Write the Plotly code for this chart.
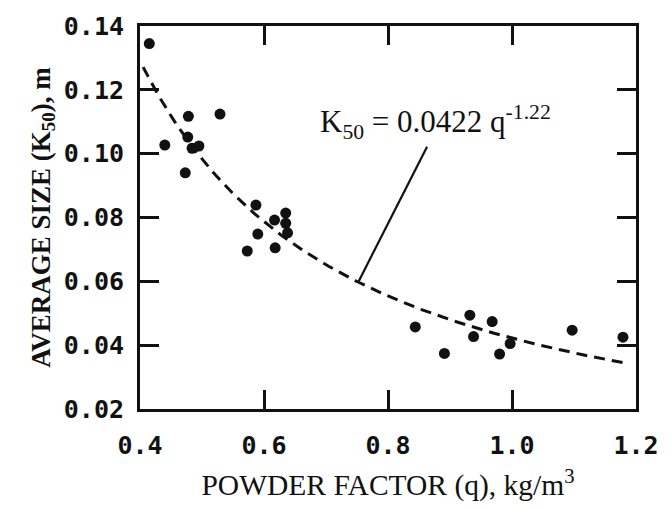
import numpy as np
import plotly.graph_objects as go

# Measured data (powder factor q in kg/m3, average size K50 in m)
q_vals = [0.415, 0.440, 0.473, 0.477, 0.478, 0.484, 0.495, 0.529,
          0.573, 0.587, 0.590, 0.617, 0.618, 0.635, 0.635, 0.638,
          0.844, 0.891, 0.932, 0.938, 0.968, 0.980, 0.997, 1.097, 1.179]
k50_vals = [0.1345, 0.1027, 0.0940, 0.1052, 0.1117, 0.1017, 0.1024, 0.1124,
            0.0695, 0.0839, 0.0748, 0.0792, 0.0705, 0.0814, 0.0782, 0.0752,
            0.0457, 0.0374, 0.0494, 0.0427, 0.0474, 0.0372, 0.0405, 0.0447, 0.0425]

# Fitted relation shown on the chart: K50 = a * q^b
fit_a = 0.0422
fit_b = -1.22
fit_range = [0.405, 1.18]

x_ticks = [0.4, 0.6, 0.8, 1.0, 1.2]
x_tick_labels = ["0.4", "0.6", "0.8", "1.0", "1.2"]
y_ticks = [0.02, 0.04, 0.06, 0.08, 0.10, 0.12, 0.14]
y_tick_labels = ["0.02", "0.04", "0.06", "0.08", "0.10", "0.12", "0.14"]

# leader line from label to curve (data coords)
leader_start = [0.863, 0.1022]
leader_end_q = 0.752
label_pos = [0.877, 0.1100]

q_fit = np.linspace(fit_range[0], fit_range[1], 200)
k_fit = fit_a * q_fit ** fit_b
leader_end = [leader_end_q, fit_a * leader_end_q ** fit_b]

ink = "#111111"
serif = "Liberation Serif"
fig = go.Figure()
fig.add_trace(go.Scatter(x=q_fit, y=k_fit, mode="lines",
                         line=dict(color=ink, width=3, dash="11px,7px"),
                         hoverinfo="skip", showlegend=False))
fig.add_trace(go.Scatter(x=q_vals, y=k50_vals, mode="markers",
                         marker=dict(color=ink, size=11),
                         showlegend=False))

fig.add_shape(type="line", xref="x", yref="y",
              x0=leader_start[0], y0=leader_start[1],
              x1=leader_end[0], y1=leader_end[1],
              line=dict(color=ink, width=2.2))
fig.add_annotation(x=label_pos[0], y=label_pos[1], xref="x", yref="y",
                   text="K<sub>50</sub> = 0.0422 q<sup>-1.22</sup>",
                   showarrow=False,
                   font=dict(family=serif, size=31, color=ink))

tickfont = dict(family="DejaVu Sans Mono", size=25, color=ink, weight="bold")
fig.update_xaxes(range=[0.4, 1.2], tickvals=x_ticks, ticktext=x_tick_labels,
                 ticks="inside", ticklen=19, tickwidth=2.5, tickcolor=ink,
                 showline=True, linewidth=3, linecolor=ink, mirror="ticks",
                 showgrid=False, zeroline=False, tickfont=tickfont,
                 ticklabelstandoff=12,
                 title=dict(text="POWDER FACTOR (q), kg/m<sup>3</sup>",
                            font=dict(family=serif, size=29.5, color=ink),
                            standoff=16))
fig.update_yaxes(range=[0.02, 0.14], tickvals=y_ticks, ticktext=y_tick_labels,
                 ticks="inside", ticklen=19, tickwidth=2.5, tickcolor=ink,
                 showline=True, linewidth=3, linecolor=ink, mirror="ticks",
                 showgrid=False, zeroline=False, tickfont=tickfont,
                 ticklabelstandoff=8,
                 title=dict(text="AVERAGE SIZE (K<sub>50</sub>), m",
                            font=dict(family=serif, size=27, color=ink,
                                      weight="bold"),
                            standoff=6))
fig.update_layout(width=671, height=509,
                  margin=dict(l=140, r=29, t=18, b=90),
                  paper_bgcolor="white", plot_bgcolor="white")
fig.write_html("out.html")
